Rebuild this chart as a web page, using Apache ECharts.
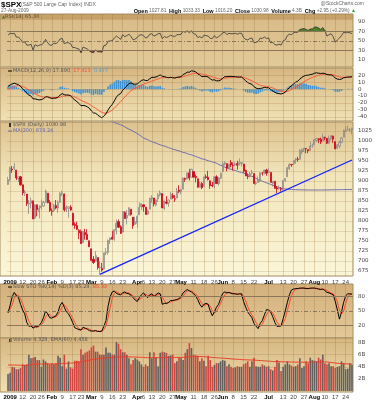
<!DOCTYPE html>
<html><head><meta charset="utf-8">
<script src="https://cdn.jsdelivr.net/npm/echarts@6/dist/echarts.min.js"></script>
<style>html,body{margin:0;padding:0;background:#fff}#c{width:377px;height:400px}</style>
</head><body><div id="c"></div>
<script>
// ---- trading days (categories) ----
const dec08=[31];
const jan=[2,5,6,7,8,9,12,13,14,15,16,20,21,22,23,26,27,28,29,30];
const feb=[2,3,4,5,6,9,10,11,12,13,17,18,19,20,23,24,25,26,27];
const mar=[2,3,4,5,6,9,10,11,12,13,16,17,18,19,20,23,24,25,26,27,30,31];
const apr=[1,2,3,6,7,8,9,13,14,15,16,17,20,21,22,23,24,27,28,29,30];
const may=[1,4,5,6,7,8,11,12,13,14,15,18,19,20,21,22,26,27,28,29];
const jun=[1,2,3,4,5,8,9,10,11,12,15,16,17,18,19,22,23,24,25,26,29,30];
const jul=[1,2,6,7,8,9,10,13,14,15,16,17,20,21,22,23,24,27,28,29,30,31];
const aug=[3,4,5,6,7,10,11,12,13,14,17,18,19,20,21,24,25,26,27];

const tickDates=['01-02','01-12','01-20','01-26','02-02','02-09','02-17','02-23','03-02','03-09','03-16','03-23','04-01','04-06','04-13','04-20','04-27','05-01','05-11','05-18','05-26','06-01','06-08','06-15','06-22','07-01','07-13','07-20','07-27','08-03','08-10','08-17','08-24'];
const tickLabels=['2009','12','20','26','Feb','9','17','23','Mar','9','16','23','Apr','6','13','20','27','May','11','18','26','Jun','8','15','22','Jul','13','20','27','Aug','10','17','24'];

// ---- price (OHLC) ----
const opens=[891,903,929,931,927,906,910,890,870,867,842,844,850,807,840,822,833,837,846,869,846,823,826,838,832,846,868,867,827,831,834,819,791,788,776,773,745,771,766,750,730,704,699,708,684,681,679,720,721,752,759,754,776,798,785,772,821,807,814,829,809,791,794,815,835,840,834,817,829,855,857,839,855,865,868,831,847,845,854,863,854,857,877,873,879,906,904,920,909,923,911,905,884,893,886,910,909,900,889,887,910,893,907,923,943,943,932,946,938,940,943,939,943,942,926,912,911,920,918,893,896,899,919,920,927,921,921,894,899,882,881,880,880,901,910,930,941,942,952,953,954,972,979,981,978,976,987,990,1001,1005,1004,1000,1009,1006,994,1006,1012,998,981,987,996,1009,1027,1027,1027,1028];
const highs=[910,935,937,944,927,910,912,890,877,867,852,858,850,842,840,839,853,850,878,869,852,831,843,852,851,871,875,868,838,835,839,819,796,798,779,778,775,780,779,751,730,712,724,708,699,695,720,732,753,758,775,778,803,803,789,823,824,827,833,829,809,810,814,846,843,840,834,828,857,864,857,853,870,876,868,850,862,853,872,869,864,882,889,880,908,908,920,930,930,923,916,905,898,897,910,916,925,900,897,912,914,909,920,948,949,943,942,952,946,947,950,956,946,942,928,918,922,927,918,899,911,921,922,928,930,932,921,899,899,887,888,884,901,906,934,944,942,952,957,960,979,980,982,982,978,997,993,1004,1007,1007,1008,1018,1010,1006,1013,1013,1013,998,991,1000,1009,1028,1036,1038,1032,1033];
const lows=[890,899,920,927,902,897,888,864,862,837,817,831,804,804,811,806,828,835,846,844,822,813,822,829,820,845,862,823,822,808,825,789,780,777,754,742,745,753,752,735,700,692,699,678,667,673,679,714,715,742,753,750,766,782,767,772,805,791,814,813,780,791,783,815,827,823,815,815,829,845,836,836,847,861,832,827,841,835,854,855,847,857,869,866,879,897,904,901,909,909,896,883,883,879,886,905,901,880,884,881,892,888,904,923,938,924,929,934,926,936,928,939,936,920,912,904,908,916,893,889,896,896,913,916,913,921,896,886,880,869,878,873,875,897,910,927,935,941,943,948,953,966,972,969,969,976,983,990,997,994,992,1000,1001,992,993,1001,995,979,981,981,996,1009,1022,1026,1022,1016];
const closes=[903,932,927,935,907,910,890,870,872,843,844,850,805,840,828,832,837,846,874,845,826,825,839,832,846,869,870,827,834,835,827,789,788,779,770,743,773,765,753,735,701,696,713,683,683,677,720,721,751,757,754,778,794,784,769,823,806,814,833,816,788,798,811,834,843,835,816,825,857,859,842,852,865,870,832,850,844,852,866,858,855,874,873,878,907,904,920,907,929,909,908,884,893,883,910,908,903,888,887,910,893,907,919,943,945,932,942,940,939,942,939,945,946,924,912,911,918,921,893,895,901,920,919,927,919,923,896,899,881,880,883,879,901,906,933,941,940,951,955,954,976,979,982,980,975,987,987,1003,1006,1003,997,1010,1007,994,1006,1013,1004,980,990,996,1007,1026,1026,1028,1028,1031];
const ma200=[1190,1188,1186,1184,1182,1179,1177,1174,1172,1169,1166,1163,1160,1157,1154,1151,1148,1145,1142,1139,1136,1133,1130,1127,1124,1121,1118,1115,1112,1109,1106,1103,1100,1097,1094,1091,1088,1085,1082,1079,1076,1073,1070,1067,1064,1061,1058,1055,1052,1050,1048,1046,1044,1042,1040,1038,1035,1032,1029,1027,1024,1021,1018,1015,1011,1007,1005,1003,1000,998,996,994,992,990,988,987,985,983,981,979,978,976,975,973,971,970,968,966,965,963,961,959,957,955,954,952,950,949,947,946,944,941,939,937,934,932,930,929,927,926,924,922,921,919,918,916,913,911,909,906,903,901,899,897,895,893,891,889,887,885,883,882,880.5,879.5,879,878.5,878.2,878,877.8,877.6,877.5,877.4,877.3,877.2,877.1,877,877,877,877,877,877,877,877.1,877.2,877.3,877.4,877.5,877.6,877.7,877.8,877.9,878,878.1,878.1,878.2,878.24];
const trendStart=['03-06',666], trendEnd=['08-27',952];

// ---- indicators ----
const rsi=[62,66,65,66,58,58,53,47,48,41,41,43,31,42,39,41,42,45,53,46,41,41,45,44,48,54,55,44,46,46,44,36,36,34,33,25,37,35,33,29,26,25,31,27,27,26,40,41,49,50,50,56,60,57,53,63,59,61,64,59,52,54,57,62,63,61,56,58,64,65,60,62,65,66,55,59,57,59,62,60,59,63,63,64,70,68,71,67,71,65,64,57,59,56,62,61,60,55,55,61,56,59,62,67,68,63,66,65,65,66,64,66,66,57,53,52,55,56,46,47,49,56,55,58,55,56,46,47,42,41,43,41,50,52,61,64,63,67,68,68,74,75,76,74,72,75,75,79,79,77,74,78,72,60,63,65,59,47,52,56,61,68,67,68,67,65.3];
const macd=[4,6,7.5,8.5,7.5,6.5,4,0.5,-2,-6,-8.5,-10,-14,-14,-15,-15.5,-15,-14,-11,-11,-12.5,-13.5,-13,-13,-11.5,-8.5,-6.5,-8,-8.5,-8.5,-9.5,-13,-15.5,-18,-20.5,-24,-23.5,-24,-25.5,-27.5,-31.5,-34.5,-34.5,-37.5,-39.5,-41.5,-38.5,-35.5,-30,-25.5,-22,-17,-11.5,-8,-6.5,-1.5,1.5,4.5,8,9,7.5,7,7.5,10,12.5,13.5,12.5,12.5,15,17,17,17.5,19,20.5,18.5,18,17,16.5,17,16.5,16,17,17.5,18,21,22.5,24.5,24.5,26.5,26,25,22,20.5,18,18.5,18.5,17.5,15,13,13.5,12,12,13,16,18,18,18.5,18.5,18,18,17.5,17.5,17.5,15,12,9.5,8,7,3.5,1.5,0.5,1,1.5,2.5,2,2,-0.5,-2.5,-4.5,-6,-6.5,-7,-6,-4.5,-1,2.5,5,7.5,10,11.5,14.5,17,19,20,20,21,21.5,23,23.5,23,22.5,23,22.5,21,20.5,20.5,19,16,14.5,14,14.5,16.5,17,17.5,17.5,17.89];
const signal=[0,1,2.5,3.5,4.5,5,4.5,3.8,2.6,0.9,-1,-2.8,-5,-6.8,-8.4,-9.8,-10.8,-11.5,-11.4,-11.3,-11.6,-12,-12.2,-12.4,-12.2,-11.5,-10.5,-10,-9.7,-9.5,-9.5,-10.2,-11.3,-12.6,-14.2,-16.2,-17.6,-18.9,-20.2,-21.7,-23.7,-25.9,-27.6,-29.6,-31.6,-33.5,-34.5,-34.7,-33.8,-32.1,-30.1,-27.5,-24.3,-21,-18.1,-14.8,-11.5,-8.3,-5,-2.2,-0.3,1.2,2.5,4,5.7,7.3,8.3,9.1,10.3,11.6,12.7,13.7,14.8,15.9,16.4,16.7,16.8,16.7,16.8,16.7,16.6,16.7,16.9,17.1,17.9,18.8,19.9,20.8,21.9,22.7,23.2,23,22.5,21.6,21,20.5,19.9,18.9,17.7,16.9,15.9,15.1,14.7,15,15.6,16.1,16.6,17,17.2,17.4,17.4,17.4,17.4,16.9,15.9,14.6,13.3,12,10.3,8.5,6.9,5.7,4.9,4.4,3.9,3.5,2.7,1.7,0.5,-0.8,-1.9,-2.9,-3.5,-3.7,-3.2,-2,-0.6,1,2.8,4.5,6.5,8.6,10.7,12.6,14.1,15.5,16.7,18,19.1,19.9,20.4,20.9,21.2,21.2,21.1,21,20.6,19.7,18.6,17.7,17.1,17,17,17.1,17.2,17.413];
const macdHist=[4,5,5,5,3,1.5,-0.5,-3.3,-4.6,-6.9,-7.5,-7.2,-9,-7.2,-6.6,-5.7,-4.2,-2.5,0.4,0.3,-0.9,-1.5,-0.8,-0.6,0.7,3,4,2,1.2,1,0,-2.8,-4.2,-5.4,-6.3,-7.8,-5.9,-5.1,-5.3,-5.8,-7.8,-8.6,-6.9,-7.9,-7.9,-8,-4,-0.8,3.8,6.6,8.1,10.5,12.8,13,11.6,13.3,13,12.8,13,11.2,7.8,5.8,5,6,6.8,6.2,4.2,3.4,4.7,5.4,4.3,3.8,4.2,4.6,2.1,1.3,0.2,-0.2,0.2,-0.2,-0.6,0.3,0.6,0.9,3.1,3.7,4.6,3.7,4.6,3.3,1.8,-1,-2,-3.6,-2.5,-2,-2.4,-3.9,-4.7,-3.4,-3.9,-3.1,-1.7,1,2.4,1.9,1.9,1.5,0.8,0.6,0.1,0.1,0.1,-1.9,-3.9,-5.1,-5.3,-5,-6.8,-7,-6.4,-4.7,-3.4,-1.9,-1.9,-1.5,-3.2,-4.2,-5,-5.2,-4.6,-4.1,-2.5,-0.8,2.2,4.5,5.6,6.5,7.2,7,8,8.4,8.3,7.4,5.9,5.5,4.8,5,4.4,3.1,2.1,2.1,1.3,-0.2,-0.6,-0.5,-1.6,-3.7,-4.1,-3.7,-2.6,-0.5,0,0.4,0.3,0.477];
const stoK=[46,62,80,89,82,78,64,52,44,26,18,19,14,17,17,20,26,36,50,44,36,35,38,40,48,62,68,58,48,44,36,26,15,13,11,10,16,14,12,9,8,8,9,7,7,8,18,30,60,80,90,92,87,85,84,88,90,87,86,83,78,73,70,78,84,88,82,78,84,86,80,84,88,86,64,66,66,68,72,72,73,74,76,80,88,92,95,92,90,86,82,74,64,58,64,66,64,50,40,48,58,64,76,87,90,88,89,87,86,86,85,86,86,70,58,48,42,36,24,18,13,24,30,42,53,52,48,38,26,18,18,19,34,50,68,84,94,96,97,97,98,98,98,97,97,98,98,98,97,96,95,96,93,89,88,86,84,70,52,33,48,68,82,86,86,85.29];
const stoD=[50,54,63,77,84,83,75,65,53,41,29,21,17,17,16,18,21,27,37,43,43,38,36,38,42,50,59,63,58,50,43,35,26,18,13,11,12,13,14,12,10,8,8,8,8,7,11,19,36,57,77,87,90,88,85,86,87,88,88,85,82,78,74,74,77,83,85,83,81,83,83,83,84,86,79,72,65,67,69,71,72,73,74,77,81,87,92,93,92,89,86,81,73,65,62,63,65,60,51,46,49,57,66,76,84,88,89,88,87,86,86,86,86,81,71,59,49,42,34,26,18,18,22,32,42,49,51,46,37,27,21,18,24,34,51,67,82,91,96,97,97,98,98,98,97,97,98,98,98,97,96,96,95,93,90,88,86,80,69,52,44,50,66,79,85,85.33];
const volume=[2.8,3.0,4.0,3.9,3.6,3.6,3.8,4.4,4.3,4.4,6.0,5.4,5.5,5.6,5.1,5.1,4.0,5.2,4.9,4.6,4.4,4.6,4.4,4.6,5.8,5.5,4.1,6.0,3.7,4.9,3.9,3.7,5.0,5.0,4.9,6.9,6.0,6.3,6.5,6.7,7.2,7.5,6.5,6.5,6.0,6.0,6.0,7.2,6.3,6.3,6.0,6.0,8.1,7.8,6.9,6.4,6.4,6.0,5.4,4.4,5.1,5.4,5.2,4.9,4.4,4.0,4.4,4.1,6.4,5.4,6.4,5.5,4.1,6.3,6.5,6.4,6.3,5.8,5.9,6.0,4.6,4.9,5.6,5.4,5.1,6.3,6.9,7.9,7.1,6.0,5.9,5.8,4.9,5.4,5.0,4.1,5.8,5.1,4.0,4.3,4.6,4.6,4.9,5.1,5.0,4.1,4.4,4.0,3.8,3.9,4.1,4.0,4.0,4.4,4.6,4.9,4.0,4.9,5.5,4.1,4.0,4.0,4.4,4.2,4.0,4.1,3.6,3.4,4.0,5.1,4.7,3.3,4.0,4.4,4.9,4.4,4.2,4.0,4.1,4.4,5.4,3.8,4.1,4.9,4.6,5.5,5.1,5.0,4.9,5.5,5.2,6.0,4.6,4.4,4.6,4.1,4.1,3.8,4.0,4.1,4.9,4.6,3.6,3.7,4.6,4.33];
const volEma=[4.30,4.29,4.29,4.28,4.27,4.26,4.25,4.25,4.25,4.25,4.30,4.34,4.38,4.42,4.44,4.46,4.45,4.47,4.47,4.47,4.46,4.47,4.47,4.47,4.49,4.50,4.52,4.57,4.56,4.58,4.60,4.62,4.66,4.70,4.76,4.84,4.90,4.96,5.02,5.08,5.15,5.22,5.28,5.33,5.37,5.40,5.43,5.47,5.50,5.52,5.54,5.56,5.60,5.63,5.64,5.65,5.65,5.65,5.64,5.62,5.61,5.60,5.59,5.58,5.56,5.54,5.52,5.50,5.51,5.51,5.52,5.52,5.50,5.51,5.52,5.53,5.54,5.55,5.55,5.55,5.54,5.54,5.55,5.56,5.56,5.58,5.62,5.66,5.70,5.71,5.72,5.72,5.70,5.68,5.66,5.62,5.60,5.58,5.55,5.52,5.49,5.46,5.44,5.42,5.40,5.37,5.34,5.31,5.28,5.26,5.23,5.21,5.18,5.16,5.15,5.14,5.12,5.12,5.11,5.08,5.05,5.02,5.00,4.98,4.95,4.93,4.90,4.87,4.85,4.86,4.86,4.83,4.81,4.80,4.80,4.79,4.78,4.77,4.76,4.76,4.77,4.75,4.74,4.75,4.75,4.77,4.78,4.78,4.78,4.79,4.80,4.82,4.80,4.78,4.75,4.70,4.66,4.62,4.58,4.55,4.53,4.51,4.49,4.47,4.46,4.458];

const rsiTicks=[10,30,50,70,90];
const macdTicks=[-40,-30,-20,-10,0,10,20];
const priceTicks=[675,700,725,750,775,800,825,850,875,900,925,950,975,1000,1025];
const stoTicks=[20,50,80];
const volTicks=[2,4,6,8];

// ---- build ----
const dates=[];
[['12',dec08],['01',jan],['02',feb],['03',mar],['04',apr],['05',may],['06',jun],['07',jul],['08',aug]]
  .forEach(([m,ds])=>ds.forEach(d=>dates.push(m+'-'+String(d).padStart(2,'0'))));
const tickIdx={}; tickDates.forEach((d,k)=>{tickIdx[dates.indexOf(d)]=tickLabels[k];});
const isTick=i=>tickIdx[i]!==undefined;

const L=7, R=24;
const grids=[{top:14,height:53},{top:68,height:53},{top:122,height:154},{top:284,height:54},{top:338,height:54}]
  .map(g=>({left:L,right:R,top:g.top,height:g.height,show:false}));

const F='DejaVu Sans';
function xAx(gi,labels){
  return {type:'category',gridIndex:gi,data:dates,boundaryGap:true,
    axisLine:{show:false},axisTick:{show:false,alignWithLabel:true},
    axisLabel:labels?{show:true,interval:(i)=>isTick(i),margin:3,hideOverlap:false,
      formatter:(v,i)=>{const t=tickIdx[i]; if(t===undefined) return ''; return /^[A-Z]|2009/.test(t)?'{m|'+t+'}':'{d|'+t+'}';},
      rich:{m:{fontFamily:'Liberation Sans',fontWeight:'bold',fontSize:6,color:'#000'},d:{fontFamily:'Liberation Sans',fontSize:6,color:'#444'}}}:{show:false},
    splitLine:{show:true,alignWithLabel:true,interval:(i)=>isTick(i),lineStyle:{color:'rgba(150,115,60,0.28)',width:1}}};
}
function yAx(gi,min,max,vals,fmt){
  return {type:'value',gridIndex:gi,position:'right',min,max,scale:true,
    axisLine:{show:false},axisTick:{show:false},splitLine:{show:false},
    axisLabel:{show:true,customValues:vals,margin:5,fontSize:5.5,fontFamily:F,color:'#444',formatter:fmt||(v=>String(v))}};
}
const hl=(vals,color,type)=>vals.map(v=>({yAxis:v,lineStyle:{color,width:1,type:type||'solid'}}));
const mlBase={silent:true,symbol:'none',label:{show:false},animation:false};

const candles=dates.map((d,i)=>{
  const up=closes[i]>=opens[i];
  const red=i>0&&closes[i]<closes[i-1];
  const c=red?'#d4001a':'#555';
  return {value:[opens[i],closes[i],lows[i],highs[i]],
    itemStyle:{color:up?'rgba(0,0,0,0)':c,color0:up?'rgba(0,0,0,0)':c,borderColor:red?'#d4001a':'#8a8a8a',borderColor0:red?'#d4001a':'#8a8a8a',borderWidth:0.8}};
});
const volBars=volume.map((v,i)=>({value:v,itemStyle:{color:(i>0&&closes[i]<closes[i-1])?'#d2443f':'#606060'}}));

const grad=(stops)=>new echarts.graphic.LinearGradient(0,0,0,1,stops.map(([o,c])=>({offset:o,color:c})));
const panels=[
  [14,53,[[0,'#c6a16a'],[0.11,'#c6a16a'],[0.115,'#d9bc89'],[1,'#e2ca99']]],
  [68,53,[[0,'#d6b682'],[1,'#f1e3b6']]],
  [122,154,[[0,'#dcc18d'],[0.35,'#f2e5bb'],[1,'#fbf6d8']]],
  [284,54,[[0,'#d3af7b'],[1,'#e3c999']]],
  [338,54,[[0,'#d6b681'],[1,'#efe0b2']]]
];
const graphic=[];
panels.forEach(([y,h,st])=>graphic.push({type:'rect',z:-10,silent:true,shape:{x:0,y:y,width:353,height:h},style:{fill:grad(st),stroke:'#a58c60',lineWidth:1}}));
const T=(x,y,text,font,fill,align,rich)=>({type:'text',z:100,silent:true,x,y,style:{text,font,fill:fill||'#555',align:align||'left',verticalAlign:'middle',rich:rich||{}}});
const LS='Liberation Sans';
graphic.push(T(1,5,'$SPX','bold 8px '+LS,'#000'));
graphic.push(T(21,5,'(S&P 500 Large Cap Index) INDX','5px '+LS,'#666'));
graphic.push(T(364,4,'@StockCharts.com','5px '+LS,'#666','right'));
graphic.push(T(1,11,'27-Aug-2009','4.8px '+LS,'#666'));
graphic.push(T(356,11,'{b|Open} 1027.81  {b|High} 1033.33  {b|Low} 1016.20  {b|Close} 1030.98  {b|Volume} 4.3B  {b|Chg} +2.95 (+0.29%) {g|▲}','4.8px '+LS,'#666','right',
  {b:{font:'bold 5.5px '+LS,fill:'#000'},g:{font:'5px '+LS,fill:'#2e9e2e'}}));
graphic.push(T(2,17,'{g|▲}RSI(14) 65.30','5px '+F,'#5a4a30','left',{g:{font:'4px '+F,fill:'#3c7a1e'}}));
graphic.push({type:'line',z:100,silent:true,shape:{x1:8,y1:71,x2:12,y2:71},style:{stroke:'#000',lineWidth:1}});
graphic.push(T(13,71,'MACD(12,26,9) 17.890, {r|17.413,} {b|0.477}','5px '+F,'#555','left',{r:{fill:'#ee5533',font:'5px '+F},b:{fill:'#4a9ad8',font:'5px '+F}}));
graphic.push(T(13,125,'$SPX (Daily) 1030.98','5px '+F,'#555'));
graphic.push({type:'rect',z:100,silent:true,shape:{x:9,y:123,width:2,height:4},style:{fill:'#333'}});
graphic.push({type:'line',z:100,silent:true,shape:{x1:8,y1:131,x2:12,y2:131},style:{stroke:'#6a6ab0',lineWidth:1}});
graphic.push(T(13,131,'MA(200) 878.24','5px '+F,'#6a6ab0'));
graphic.push({type:'line',z:100,silent:true,shape:{x1:8,y1:287,x2:12,y2:287},style:{stroke:'#000',lineWidth:1}});
graphic.push(T(13,287,'Slow STO %K(14) %D(3) 85.29, {r|85.33}','5px '+F,'#555','left',{r:{fill:'#ee4422',font:'5px '+F}}));
graphic.push({type:'rect',z:100,silent:true,shape:{x:9,y:339,width:1,height:3},style:{fill:'#444'}});
graphic.push({type:'rect',z:100,silent:true,shape:{x:10.5,y:338,width:1,height:4},style:{fill:'#444'}});
graphic.push(T(13,340,'Volume 4,328, EMA(60) 4,458','5px '+F,'#555'));

const hiBase=rsi.map(()=>70), hiExt=rsi.map(v=>Math.max(v-70,0));
const loBase=rsi.map(v=>Math.min(v,30)), loExt=rsi.map(v=>30-Math.min(v,30));
const inv={opacity:0};
const option={
  animation:false,backgroundColor:'#fff',
  grid:grids,
  xAxis:[xAx(0,false),xAx(1,false),xAx(2,true),xAx(3,false),xAx(4,true)],
  yAxis:[yAx(0,-5,106.5,rsiTicks),yAx(1,-46,30.5,macdTicks),yAx(2,662,1047,priceTicks),yAx(3,-6.6,106.6,stoTicks),yAx(4,0,8.75,volTicks,v=>v+'B')],
  graphic:{elements:graphic},
  series:[
    {type:'line',xAxisIndex:0,yAxisIndex:0,data:hiBase,stack:'hi',symbol:'none',lineStyle:inv,silent:true},
    {type:'line',xAxisIndex:0,yAxisIndex:0,data:hiExt,stack:'hi',symbol:'none',lineStyle:inv,areaStyle:{color:'#4f7f2a',opacity:1},silent:true},
    {type:'line',xAxisIndex:0,yAxisIndex:0,data:loBase,stack:'lo',symbol:'none',lineStyle:inv,silent:true},
    {type:'line',xAxisIndex:0,yAxisIndex:0,data:loExt,stack:'lo',symbol:'none',lineStyle:inv,areaStyle:{color:'#9a3a30',opacity:1},silent:true},
    {type:'line',xAxisIndex:0,yAxisIndex:0,data:rsi,symbol:'none',lineStyle:{color:'#333',width:0.8},z:4,
      markLine:Object.assign({},mlBase,{data:[...hl([70,30],'#8a7658'),...hl([50],'#8a7658',[4,2,1,2])]})},
    {type:'bar',xAxisIndex:1,yAxisIndex:1,data:macdHist,barWidth:'75%',itemStyle:{color:'#3f93d4'},z:1,
      markLine:Object.assign({},mlBase,{data:hl(macdTicks,'rgba(150,115,60,0.22)')})},
    {type:'line',xAxisIndex:1,yAxisIndex:1,data:signal,symbol:'none',lineStyle:{color:'#ff5a3a',width:1},z:3},
    {type:'line',xAxisIndex:1,yAxisIndex:1,data:macd,symbol:'none',lineStyle:{color:'#000',width:1},z:4},
    {type:'line',xAxisIndex:2,yAxisIndex:2,data:ma200,symbol:'none',lineStyle:{color:'#6e6eae',width:1},z:1,clip:true,
      markLine:Object.assign({},mlBase,{data:hl(priceTicks,'rgba(150,115,60,0.2)')})},
    {type:'candlestick',xAxisIndex:2,yAxisIndex:2,data:candles,barWidth:1.6,z:3,
      markLine:Object.assign({},mlBase,{z:5,data:[[{coord:trendStart},{coord:trendEnd}]],lineStyle:{color:'#1420ff',width:1.3,type:'solid'}})},
    {type:'line',xAxisIndex:3,yAxisIndex:3,data:stoD,symbol:'none',lineStyle:{color:'#ff4a2a',width:1},z:3,
      markLine:Object.assign({},mlBase,{data:[...hl([80,20],'#8a7658'),...hl([50],'#8a7658',[4,2,1,2])]})},
    {type:'line',xAxisIndex:3,yAxisIndex:3,data:stoK,symbol:'none',lineStyle:{color:'#000',width:1},z:4},
    {type:'bar',xAxisIndex:4,yAxisIndex:4,data:volBars,barWidth:'78%',z:2,
      markLine:Object.assign({},mlBase,{data:hl(volTicks,'rgba(150,115,60,0.22)')})},
    {type:'line',xAxisIndex:4,yAxisIndex:4,data:volEma,symbol:'none',lineStyle:{color:'#e8402a',width:1},z:4}
  ]
};
const chart=echarts.init(document.getElementById('c'),null,{renderer:'canvas'});
chart.setOption(option);
</script></body></html>
